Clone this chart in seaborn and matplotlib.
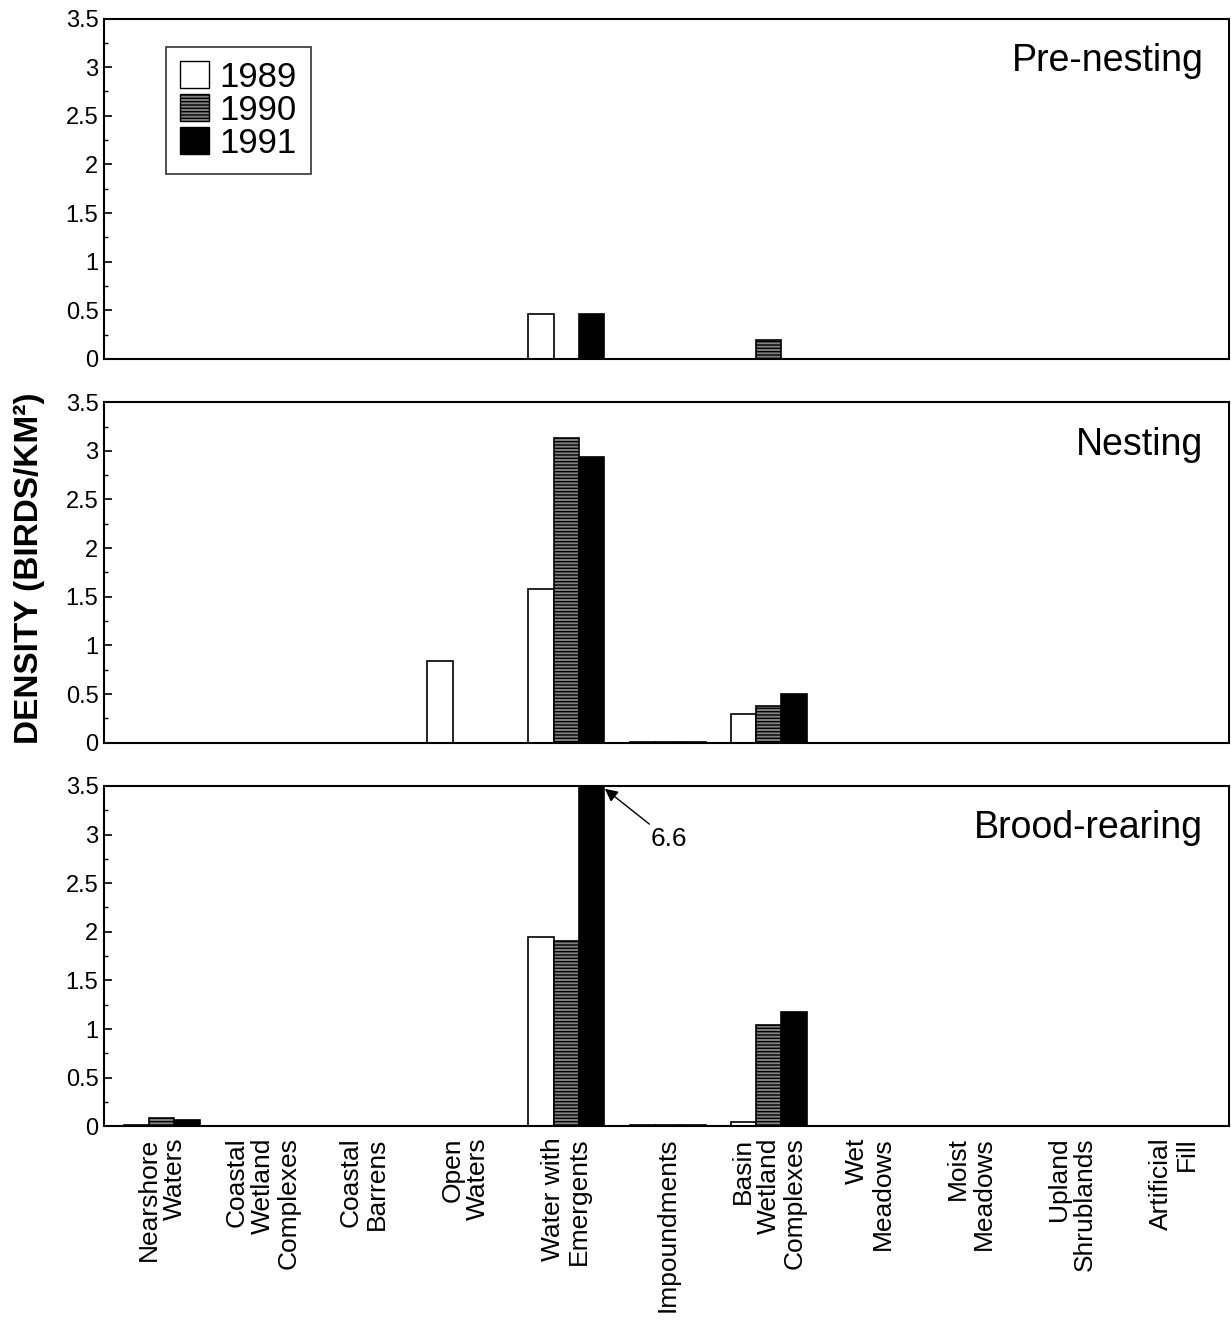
import pandas as pd
import seaborn as sns
import matplotlib.pyplot as plt
from matplotlib.patches import Patch
from matplotlib.ticker import MultipleLocator

habitats = ["Nearshore\nWaters", "Coastal\nWetland\nComplexes", "Coastal\nBarrens",
            "Open\nWaters", "Water with\nEmergents", "Impoundments",
            "Basin\nWetland\nComplexes", "Wet\nMeadows", "Moist\nMeadows",
            "Upland\nShrublands", "Artificial\nFill"]
years = ["1989", "1990", "1991"]
seasons = ["Pre-nesting", "Nesting", "Brood-rearing"]

pre_1989 = [0, 0, 0, 0, 0.46, 0, 0, 0, 0, 0, 0]
pre_1990 = [0, 0, 0, 0, 0, 0, 0.19, 0, 0, 0, 0]
pre_1991 = [0, 0, 0, 0, 0.46, 0, 0, 0, 0, 0, 0]

nest_1989 = [0, 0, 0, 0.84, 1.58, 0.01, 0.29, 0, 0, 0, 0]
nest_1990 = [0, 0, 0, 0, 3.13, 0.01, 0.38, 0, 0, 0, 0]
nest_1991 = [0, 0, 0, 0, 2.94, 0.01, 0.50, 0, 0, 0, 0]

brood_1989 = [0.01, 0, 0, 0, 1.95, 0.01, 0.04, 0, 0, 0, 0]
brood_1990 = [0.09, 0, 0, 0, 1.91, 0.01, 1.04, 0, 0, 0, 0]
brood_1991 = [0.07, 0, 0, 0, 6.6, 0.01, 1.18, 0, 0, 0, 0]

season_values = {
    "Pre-nesting": [pre_1989, pre_1990, pre_1991],
    "Nesting": [nest_1989, nest_1990, nest_1991],
    "Brood-rearing": [brood_1989, brood_1990, brood_1991],
}

# fill / hatch per year
year_face = {"1989": "white", "1990": "0.5", "1991": "black"}
year_hatch = {"1989": None, "1990": "-----", "1991": None}

sns.set_theme(style="white")
plt.rcParams["font.family"] = ["Liberation Sans", "DejaVu Sans"]
plt.rcParams["text.color"] = "black"
plt.rcParams["axes.labelcolor"] = "black"
plt.rcParams["xtick.color"] = "black"
plt.rcParams["ytick.color"] = "black"
plt.rcParams["hatch.linewidth"] = 1.0
plt.rcParams["hatch.color"] = "black"

fig, axs = plt.subplots(3, 1, figsize=(12.31, 13.22), dpi=100, sharex=True)
fig.subplots_adjust(left=0.0845, right=0.9985, top=0.986, bottom=0.148,
                    hspace=0.127)

for ax, season in zip(axs, seasons):
    rows = []
    for year, vals in zip(years, season_values[season]):
        for hab, v in zip(habitats, vals):
            rows.append({"habitat": hab, "year": year, "density": v})
    df = pd.DataFrame(rows)

    sns.barplot(data=df, x="habitat", y="density", hue="year",
                hue_order=years, order=habitats, width=0.75,
                palette=year_face, edgecolor="black", linewidth=1.2,
                legend=False, ax=ax)

    for container, year in zip(ax.containers, years):
        for bar in container:
            bar.set_facecolor(year_face[year])
            if year_hatch[year]:
                bar.set_hatch(year_hatch[year])

    ax.set_ylim(0, 3.5)
    ax.set_xlim(-0.57, 10.55)
    ax.yaxis.set_minor_locator(MultipleLocator(0.25))
    ax.set_yticks([0, 0.5, 1, 1.5, 2, 2.5, 3, 3.5])
    ax.set_yticklabels(["0", "0.5", "1", "1.5", "2", "2.5", "3", "3.5"],
                       fontsize=17)
    ax.tick_params(axis="y", which="major", direction="in", length=6,
                   width=1.2, left=True, pad=4)
    ax.tick_params(axis="y", which="minor", direction="in", length=3,
                   width=1.0, left=True)
    ax.tick_params(axis="x", length=0)
    ax.set_xlabel("")
    ax.set_ylabel("")
    for spine in ax.spines.values():
        spine.set_color("black")
        spine.set_linewidth(1.5)

    ax.text(0.977, 0.875, season, transform=ax.transAxes, ha="right",
            va="center", fontsize=27)

# legend on the first panel
handles = [Patch(facecolor=year_face[y], edgecolor="black",
                 hatch=year_hatch[y], label=y) for y in years]
leg = axs[0].legend(handles=handles, loc="upper left",
                    bbox_to_anchor=(0.055, 0.917), borderaxespad=0,
                    fontsize=25, frameon=True, fancybox=False,
                    handlelength=0.85, handleheight=0.85, handletextpad=0.3,
                    labelspacing=0.0, borderpad=0.4)
leg.get_frame().set_edgecolor("black")
leg.get_frame().set_linewidth(1.2)

# value of the clipped bar
big = max(brood_1991)
axs[2].annotate(f"{big:.1f}", xy=(4.38, 3.47), xytext=(4.83, 2.95),
                fontsize=19, ha="left", va="center",
                arrowprops=dict(arrowstyle="-|>", color="black", lw=1.0,
                                shrinkA=0, shrinkB=0))

axs[2].set_xticks(range(len(habitats)))
axs[2].set_xticklabels(habitats, rotation=90, fontsize=19)
for lab in axs[2].get_xticklabels():
    lab.set_multialignment("right")
    lab.set_linespacing(1.1)
axs[2].tick_params(axis="x", pad=8)

fig.text(0.024, 0.57, "DENSITY (BIRDS/KM²)", rotation=90, ha="center",
         va="center", fontsize=24, fontweight="bold")

plt.savefig("out.png", dpi=100)
plt.close()
